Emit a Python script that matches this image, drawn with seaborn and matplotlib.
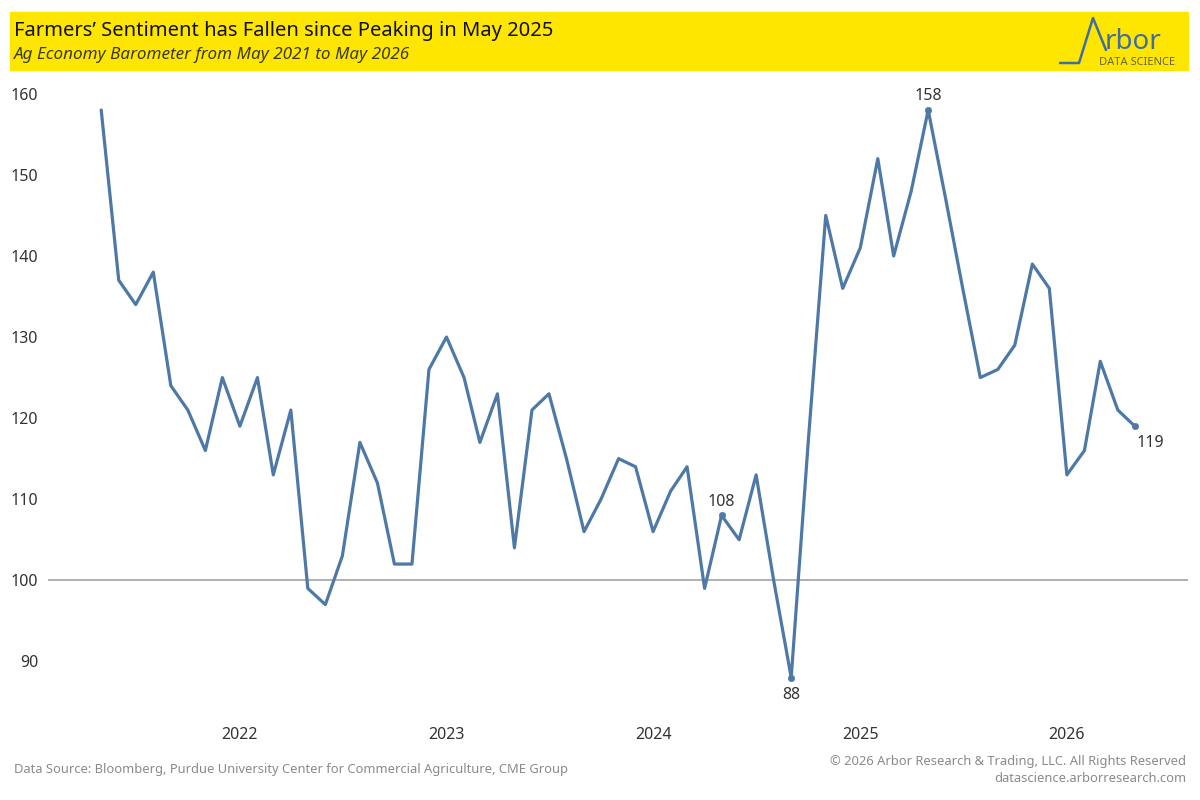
import matplotlib
matplotlib.use("Agg")
import matplotlib.pyplot as plt
from matplotlib.patches import Rectangle
import pandas as pd
import seaborn as sns

# Ag Economy Barometer, monthly May 2021 - May 2026
months = pd.date_range("2021-05-01", "2026-05-01", freq="MS")
barometer = [
    158, 137, 134, 138, 124, 121, 116, 125,
    119, 125, 113, 121, 99, 97, 103, 117, 112, 102, 102, 126,
    130, 125, 117, 123, 104, 121, 123, 115, 106, 110, 115, 114,
    106, 111, 114, 99, 108, 105, 113, 100, 88, 117, 145, 136,
    141, 152, 140, 148, 158, 147, 136, 125, 126, 129, 139, 136,
    113, 116, 127, 121, 119,
]
labelled = ["2024-05-01", "2024-09-01", "2025-05-01", "2026-05-01"]
year_ticks = ["2022", "2023", "2024", "2025", "2026"]
y_ticks = [90, 100, 110, 120, 130, 140, 150, 160]

df = pd.DataFrame({"month": months, "value": barometer})
marks = df[df["month"].isin(pd.to_datetime(labelled))]

sns.set_style("white")
plt.rcParams["font.family"] = ["Noto Sans", "DejaVu Sans"]

blue = "#4e79a7"
txt = "#333333"

fig = plt.figure(figsize=(12, 8), dpi=100)
ax = fig.add_axes([48 / 1200, 1 - 710 / 800, (1188 - 48) / 1200, 630 / 800])

sns.lineplot(data=df, x="month", y="value", ax=ax, color=blue, linewidth=2.3)
sns.scatterplot(data=marks, x="month", y="value", ax=ax, color=blue, s=22,
                edgecolor=blue, zorder=5)
ax.axhline(100, color="#aaaaaa", linewidth=1.3, zorder=1)

# point labels
offsets = {"2024-05-01": (0, 4, "center", "bottom"),
           "2024-09-01": (0, -7, "center", "top"),
           "2025-05-01": (0, 4, "center", "bottom"),
           "2026-05-01": (11, -6, "center", "top")}
for _, r in marks.iterrows():
    dx, dy, ha, va = offsets[r["month"].strftime("%Y-%m-%d")]
    ax.annotate(f"{r['value']:.0f}", (r["month"], r["value"]),
                xytext=(dx, dy), textcoords="offset points",
                ha=ha, va=va, fontsize=11.5, color=txt)

pad = pd.Timedelta(days=94)
ax.set_xlim(months[0] - pad, months[-1] + pad)
ax.set_ylim(84, 161.7)
ax.set_yticks(y_ticks)
ax.set_xticks([pd.Timestamp(f"{y}-01-01") for y in year_ticks])
ax.set_xticklabels(year_ticks)
ax.tick_params(axis="both", length=0, labelsize=11.5, labelcolor=txt)
ax.tick_params(axis="x", pad=12)
ax.tick_params(axis="y", pad=7)
ax.set_xlabel("")
ax.set_ylabel("")
sns.despine(ax=ax, left=True, bottom=True)

# header, logo and footer drawn in pixel space
over = fig.add_axes([0, 0, 1, 1], zorder=-1)
over.set_xlim(0, 1200)
over.set_ylim(800, 0)
over.axis("off")
over.add_patch(Rectangle((10, 12), 1178, 58, color="#ffe600", zorder=0))
over.text(14, 31, "Farmers\u2019 Sentiment has Fallen since Peaking in May 2025",
          fontsize=14.5, color="#111111", va="center", ha="left")
over.text(14, 55, "Ag Economy Barometer from May 2021 to May 2026",
          fontsize=12.3, style="italic", color="#3a3a1a", va="center", ha="left")

logo_blue = "#3f6ea3"
over.plot([1060, 1079, 1093, 1106], [63, 63, 18, 50], color=logo_blue, linewidth=1.8)
over.text(1105, 49, "rbor", fontsize=20, color=logo_blue, va="baseline", ha="left")
over.text(1137, 62.5, "DATA SCIENCE", fontsize=8, color="#66663a", va="center", ha="center")

over.text(14, 769, "Data Source: Bloomberg, Purdue University Center for Commercial Agriculture, CME Group",
          fontsize=9.3, color="#8a8a8a", va="center", ha="left")
over.text(1186, 761, "\u00a9 2026 Arbor Research & Trading, LLC. All Rights Reserved",
          fontsize=9.3, color="#8a8a8a", va="center", ha="right")
over.text(1186, 779, "datascience.arborresearch.com",
          fontsize=9.3, color="#8a8a8a", va="center", ha="right")

fig.savefig("out.png", dpi=100, facecolor="white")
